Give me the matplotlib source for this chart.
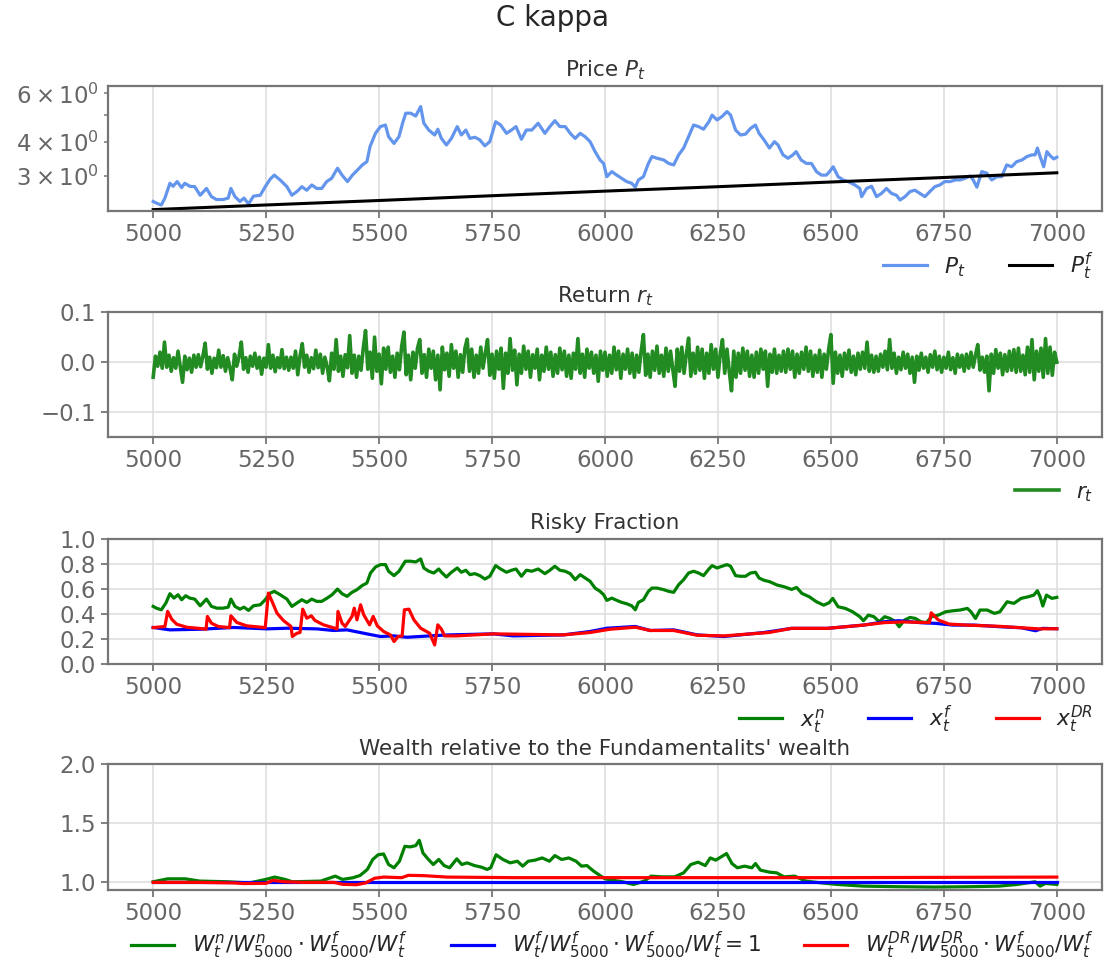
import numpy as np
import matplotlib
matplotlib.use("Agg")
import matplotlib.pyplot as plt

# ---------------- data ----------------
# market price P_t (time, price)
price_pts = [
    (5000, 2.42), (5009, 2.38), (5018, 2.35), (5026, 2.49), (5037, 2.82), (5044, 2.75),
    (5053, 2.86), (5063, 2.72), (5070, 2.82), (5081, 2.75), (5092, 2.74), (5104, 2.55),
    (5118, 2.70), (5129, 2.52), (5140, 2.46), (5155, 2.46), (5166, 2.49), (5172, 2.70),
    (5181, 2.52), (5192, 2.42), (5201, 2.49), (5211, 2.37), (5222, 2.53), (5237, 2.55),
    (5248, 2.74), (5259, 2.92), (5268, 3.02), (5281, 2.90), (5296, 2.74), (5307, 2.55),
    (5318, 2.63), (5329, 2.74), (5340, 2.66), (5351, 2.78), (5362, 2.70), (5373, 2.70),
    (5384, 2.86), (5395, 2.94), (5408, 3.20), (5418, 3.02), (5430, 2.86), (5441, 3.02),
    (5452, 3.15), (5463, 3.29), (5473, 3.38), (5480, 3.84), (5492, 4.29), (5503, 4.54),
    (5514, 4.60), (5521, 4.17), (5533, 3.94), (5544, 4.17), (5552, 4.67), (5559, 5.08),
    (5570, 5.08), (5581, 4.96), (5592, 5.37), (5599, 4.67), (5610, 4.41), (5623, 4.23),
    (5630, 4.44), (5638, 4.11), (5649, 3.89), (5660, 4.11), (5673, 4.54), (5682, 4.23),
    (5692, 4.41), (5701, 4.11), (5712, 4.15), (5723, 4.06), (5734, 3.86), (5745, 4.00),
    (5758, 4.73), (5769, 4.60), (5782, 4.29), (5793, 4.41), (5803, 4.54), (5815, 4.08),
    (5826, 4.41), (5838, 4.41), (5852, 4.67), (5867, 4.29), (5878, 4.54), (5889, 4.77),
    (5900, 4.54), (5912, 4.54), (5923, 4.29), (5934, 4.11), (5945, 4.29), (5956, 4.17),
    (5967, 4.00), (5978, 3.68), (5989, 3.43), (5997, 3.33), (6004, 2.98), (6015, 3.11),
    (6026, 3.02), (6037, 2.94), (6048, 2.86), (6059, 2.82), (6067, 2.73), (6074, 2.90),
    (6085, 2.98), (6096, 3.33), (6104, 3.53), (6115, 3.48), (6130, 3.43), (6141, 3.33),
    (6152, 3.29), (6163, 3.58), (6174, 3.79), (6185, 4.17), (6196, 4.60), (6207, 4.54),
    (6218, 4.44), (6230, 4.73), (6237, 5.00), (6248, 4.80), (6259, 4.94), (6270, 5.15),
    (6278, 5.00), (6289, 4.41), (6300, 4.23), (6311, 4.26), (6322, 4.47), (6333, 4.60),
    (6341, 4.29), (6352, 4.06), (6364, 3.79), (6375, 4.00), (6383, 3.89), (6394, 3.58),
    (6405, 3.48), (6416, 3.58), (6423, 3.68), (6434, 3.43), (6446, 3.33), (6457, 3.33),
    (6468, 3.11), (6479, 3.02), (6490, 3.02), (6497, 3.11), (6505, 3.24), (6516, 2.98),
    (6527, 2.90), (6538, 2.86), (6553, 2.78), (6564, 2.70), (6568, 2.52), (6579, 2.70),
    (6590, 2.75), (6601, 2.52), (6612, 2.59), (6623, 2.70), (6634, 2.59), (6645, 2.55),
    (6653, 2.45), (6664, 2.52), (6675, 2.63), (6686, 2.66), (6697, 2.59), (6708, 2.52),
    (6719, 2.63), (6730, 2.74), (6741, 2.78), (6752, 2.86), (6764, 2.86), (6775, 2.90),
    (6786, 2.90), (6797, 2.94), (6808, 3.00), (6815, 2.90), (6823, 2.73), (6834, 3.11),
    (6845, 3.07), (6856, 2.90), (6867, 2.98), (6878, 2.98), (6889, 3.29), (6900, 3.24),
    (6911, 3.38), (6923, 3.43), (6934, 3.53), (6945, 3.58), (6952, 3.58), (6957, 3.79),
    (6963, 3.53), (6971, 3.24), (6978, 3.68), (6985, 3.56), (6993, 3.46), (7000, 3.51),
]

# fundamental price P_t^f
fund_t = [5000, 5250, 5500, 5750, 6000, 6250, 6500, 6750, 7000]
fund_v = [2.26, 2.35, 2.44, 2.54, 2.64, 2.74, 2.85, 2.96, 3.08]

# returns r_t in thousandths, one value every 5 periods from 5000 to 7000
returns_milli = [
    -30, 12, -8, 20, -12, 40, -10, 14, -18, 9, -12, 22, -9, -40, 12, -15, 8, -20, 14, -10,
    15, -9, 12, 38, -14, 10, -22, 8, -11, 24, -10, 13, -18, 9, -12, -35, 16, -8, 11, 40,
    -14, 9, -20, 12, -8, 18, -12, 10, -24, 8, -10, 35, -12, 14, -19, 9, -11, 25, -13, 10,
    -16, 10, -12, 22, -25, 12, 37, -10, 14, -20, 9, -13, 24, -11, 16, -22, 10, -9, -37, 18,
    -14, 45, -18, 12, -28, 15, -11, 53, -22, 14, -30, 12, -16, 28, 63, -14, 20, -32, 50, -18,
    16, -43, 28, -14, 30, -20, 12, -30, 18, -15, 32, 60, -25, 14, -35, 20, -12, 28, 45, -22,
    15, -30, 26, -12, 22, -35, 14, -55, 30, -15, 18, -28, 35, -12, 22, -30, 15, -20, 28, 46,
    -18, 26, -30, 14, -22, 30, -12, 18, 45, -26, 16, -32, 22, -14, 28, -52, 18, -22, 47, -16,
    24, -45, 16, -22, 32, -14, 22, -30, 15, -12, 26, -35, 14, -18, 30, -14, 20, -28, 15, -22,
    28, -15, 22, -28, 14, -32, 18, -14, 47, -22, 16, -30, 26, -12, 20, -22, 14, -38, 22, -16,
    20, -28, 14, -22, 30, -15, 22, -32, 16, -14, 26, -22, 18, -30, 14, -20, 22, 55, -26, 16,
    -30, 22, -16, 32, -22, 14, -28, 28, -18, 22, -14, -48, 26, -18, 30, -22, 16, 48, -28, 18,
    -22, 30, -16, 26, -32, 18, -22, 35, -14, 26, -30, 16, 45, -22, 26, -18, -57, 22, -30, 18,
    -22, 28, -16, 22, -28, 14, -30, 20, -22, 26, -14, 22, -48, 16, -20, 26, -22, 14, -18, 22,
    -20, 26, -14, 22, -30, 16, -22, 20, -14, 30, -18, 22, -28, 14, -20, 24, -30, 16, -14, 26,
    55, -42, 20, -22, 14, -28, 18, -14, 24, -20, 12, -25, 18, -14, 20, -12, 40, -18, 14, -20,
    12, -18, 16, -10, 22, -15, 45, -12, 18, -22, 10, -15, 20, -12, 16, -22, 10, -40, 12, -16,
    18, -12, 10, -20, 15, -10, 22, -15, 12, -20, 10, -12, 20, -15, 9, -22, 16, -10, 14, -18,
    16, -12, 20, -10, 14, 35, -16, 10, -20, 12, -57, 16, -22, 25, -12, 18, -25, 15, -18, 22,
    -16, 25, -20, 28, -18, 14, -25, 30, -20, 45, -35, 22, -18, 28, -30, 47, -22, 30, -26, 20,
    0,
]

# risky fraction of the noise traders x_t^n
xn_pts = [
    (5000, 0.459), (5007, 0.445), (5018, 0.432), (5028, 0.485), (5037, 0.560), (5046, 0.525),
    (5055, 0.552), (5063, 0.512), (5072, 0.544), (5081, 0.525), (5092, 0.517), (5104, 0.464),
    (5118, 0.517), (5129, 0.459), (5141, 0.445), (5155, 0.445), (5166, 0.453), (5172, 0.517),
    (5181, 0.459), (5192, 0.437), (5201, 0.453), (5211, 0.427), (5222, 0.464), (5237, 0.472),
    (5248, 0.512), (5259, 0.565), (5268, 0.579), (5281, 0.552), (5296, 0.517), (5307, 0.459),
    (5318, 0.485), (5329, 0.512), (5340, 0.491), (5351, 0.517), (5362, 0.499), (5373, 0.499),
    (5385, 0.525), (5396, 0.552), (5408, 0.597), (5418, 0.560), (5429, 0.539), (5440, 0.571),
    (5451, 0.592), (5462, 0.624), (5473, 0.645), (5481, 0.725), (5492, 0.773), (5503, 0.792),
    (5514, 0.792), (5521, 0.739), (5533, 0.704), (5544, 0.739), (5551, 0.779), (5558, 0.819),
    (5570, 0.819), (5581, 0.813), (5592, 0.837), (5599, 0.765), (5610, 0.739), (5621, 0.725),
    (5632, 0.757), (5638, 0.731), (5649, 0.693), (5660, 0.731), (5673, 0.765), (5682, 0.731),
    (5692, 0.747), (5701, 0.712), (5712, 0.720), (5723, 0.704), (5734, 0.677), (5745, 0.699),
    (5758, 0.784), (5769, 0.757), (5782, 0.731), (5793, 0.747), (5803, 0.757), (5815, 0.699),
    (5826, 0.747), (5838, 0.739), (5852, 0.757), (5867, 0.720), (5878, 0.747), (5889, 0.779),
    (5900, 0.747), (5912, 0.739), (5923, 0.720), (5934, 0.672), (5945, 0.712), (5956, 0.685),
    (5967, 0.659), (5978, 0.605), (5989, 0.579), (5997, 0.552), (6004, 0.507), (6015, 0.525),
    (6026, 0.507), (6037, 0.491), (6048, 0.480), (6059, 0.464), (6067, 0.432), (6074, 0.491),
    (6085, 0.512), (6096, 0.579), (6104, 0.605), (6115, 0.605), (6130, 0.592), (6141, 0.579),
    (6152, 0.571), (6163, 0.632), (6174, 0.672), (6185, 0.725), (6196, 0.739), (6207, 0.725),
    (6218, 0.704), (6230, 0.757), (6237, 0.784), (6248, 0.765), (6259, 0.779), (6270, 0.792),
    (6278, 0.779), (6289, 0.704), (6300, 0.699), (6311, 0.699), (6322, 0.725), (6333, 0.731),
    (6341, 0.685), (6352, 0.667), (6365, 0.655), (6381, 0.629), (6397, 0.615), (6413, 0.594),
    (6424, 0.610), (6436, 0.562), (6452, 0.536), (6468, 0.496), (6484, 0.469), (6496, 0.488),
    (6504, 0.523), (6516, 0.456), (6532, 0.443), (6548, 0.416), (6564, 0.377), (6572, 0.345),
    (6583, 0.390), (6595, 0.377), (6607, 0.337), (6619, 0.377), (6631, 0.363), (6643, 0.337),
    (6651, 0.297), (6663, 0.350), (6675, 0.371), (6687, 0.363), (6699, 0.337), (6711, 0.329),
    (6723, 0.377), (6738, 0.390), (6754, 0.416), (6770, 0.424), (6786, 0.430), (6802, 0.443),
    (6810, 0.416), (6820, 0.363), (6830, 0.430), (6846, 0.430), (6862, 0.403), (6874, 0.416),
    (6890, 0.496), (6905, 0.483), (6921, 0.523), (6937, 0.536), (6949, 0.549), (6957, 0.584),
    (6963, 0.536), (6969, 0.462), (6977, 0.549), (6989, 0.523), (7000, 0.531),
]

# risky fraction of the fundamentalists x_t^f
xf_pts = [
    (5000, 0.291), (5037, 0.272), (5104, 0.277), (5178, 0.291), (5252, 0.280), (5296, 0.285),
    (5362, 0.280), (5399, 0.267), (5429, 0.272), (5473, 0.240), (5503, 0.219), (5533, 0.224),
    (5562, 0.213), (5612, 0.224), (5656, 0.232), (5753, 0.240), (5797, 0.224), (5908, 0.232),
    (5967, 0.259), (6004, 0.285), (6067, 0.299), (6100, 0.267), (6152, 0.272), (6204, 0.232),
    (6263, 0.219), (6352, 0.251), (6413, 0.284), (6492, 0.284), (6572, 0.310), (6619, 0.337),
    (6651, 0.345), (6699, 0.329), (6731, 0.324), (6770, 0.310), (6818, 0.310), (6874, 0.297),
    (6921, 0.289), (6953, 0.265), (6969, 0.284), (7000, 0.281),
]

# risky fraction of the DR traders x_t^DR
xdr_pts = [
    (5000, 0.290), (5026, 0.299), (5032, 0.419), (5041, 0.357), (5052, 0.317), (5074, 0.293),
    (5104, 0.283), (5117, 0.277), (5120, 0.379), (5129, 0.325), (5144, 0.299), (5169, 0.290),
    (5172, 0.384), (5185, 0.331), (5207, 0.304), (5248, 0.290), (5255, 0.565), (5263, 0.499),
    (5274, 0.405), (5288, 0.347), (5305, 0.299), (5308, 0.219), (5318, 0.245), (5325, 0.251),
    (5331, 0.437), (5340, 0.365), (5350, 0.384), (5358, 0.347), (5377, 0.312), (5407, 0.280),
    (5409, 0.419), (5418, 0.325), (5425, 0.299), (5440, 0.379), (5445, 0.445), (5451, 0.352),
    (5459, 0.472), (5466, 0.392), (5479, 0.312), (5487, 0.379), (5496, 0.304), (5510, 0.259),
    (5525, 0.232), (5533, 0.179), (5542, 0.219), (5551, 0.224), (5556, 0.432), (5566, 0.437),
    (5577, 0.352), (5592, 0.285), (5612, 0.245), (5623, 0.152), (5630, 0.312), (5638, 0.277),
    (5645, 0.224), (5671, 0.224), (5753, 0.240), (5908, 0.232), (5967, 0.251), (6011, 0.277),
    (6067, 0.293), (6100, 0.267), (6152, 0.267), (6204, 0.229), (6263, 0.224), (6363, 0.251),
    (6413, 0.284), (6492, 0.284), (6572, 0.310), (6619, 0.330), (6660, 0.335), (6718, 0.330),
    (6722, 0.408), (6738, 0.350), (6762, 0.318), (6800, 0.310), (6874, 0.300), (6921, 0.289),
    (6960, 0.280), (7000, 0.281),
]

# wealth of the noise traders relative to the fundamentalists
wn_pts = [
    (5000, 1.000), (5032, 1.025), (5071, 1.025), (5103, 1.006), (5166, 1.000), (5213, 0.990),
    (5249, 1.020), (5269, 1.040), (5292, 1.020), (5308, 1.000), (5371, 1.006), (5403, 1.048),
    (5419, 1.020), (5442, 1.034), (5458, 1.054), (5474, 1.105), (5486, 1.190), (5498, 1.230),
    (5510, 1.237), (5521, 1.147), (5533, 1.119), (5545, 1.175), (5557, 1.302), (5569, 1.297),
    (5581, 1.308), (5589, 1.353), (5597, 1.246), (5608, 1.195), (5620, 1.147), (5632, 1.190),
    (5644, 1.138), (5656, 1.119), (5672, 1.195), (5683, 1.147), (5695, 1.161), (5711, 1.138),
    (5727, 1.124), (5739, 1.105), (5747, 1.119), (5759, 1.230), (5774, 1.190), (5790, 1.161),
    (5806, 1.175), (5818, 1.133), (5830, 1.175), (5845, 1.184), (5861, 1.203), (5877, 1.175),
    (5889, 1.223), (5904, 1.190), (5920, 1.203), (5936, 1.175), (5948, 1.133), (5960, 1.138),
    (5975, 1.090), (5991, 1.048), (6000, 1.025), (6015, 1.014), (6039, 1.000), (6063, 0.977),
    (6087, 1.006), (6102, 1.048), (6126, 1.042), (6154, 1.042), (6174, 1.076), (6190, 1.147),
    (6206, 1.167), (6222, 1.138), (6233, 1.203), (6245, 1.184), (6257, 1.212), (6269, 1.240),
    (6281, 1.155), (6293, 1.119), (6309, 1.133), (6325, 1.119), (6333, 1.155), (6344, 1.099),
    (6364, 1.082), (6380, 1.076), (6396, 1.042), (6420, 1.048), (6444, 1.006), (6475, 0.992),
    (6515, 0.977), (6571, 0.963), (6650, 0.958), (6729, 0.955), (6809, 0.958), (6872, 0.963),
    (6912, 0.977), (6952, 1.000), (6963, 0.963), (6975, 0.986), (7000, 0.977),
]

# wealth of the fundamentalists relative to themselves (identically one)
wf_t = [5000, 7000]
wf_v = [1.0, 1.0]

# wealth of the DR traders relative to the fundamentalists
wdr_pts = [
    (5000, 0.995), (5100, 0.995), (5180, 0.990), (5200, 0.985), (5250, 0.987), (5265, 1.012),
    (5290, 1.000), (5330, 0.995), (5400, 0.995), (5420, 0.978), (5450, 0.975), (5470, 0.990),
    (5490, 1.030), (5510, 1.040), (5550, 1.035), (5565, 1.055), (5600, 1.052), (5650, 1.040),
    (5800, 1.035), (6000, 1.035), (6500, 1.035), (7000, 1.040),
]

x_ticks = [5000, 5250, 5500, 5750, 6000, 6250, 6500, 6750, 7000]


def unzip(pts):
    a = np.array(pts, dtype=float)
    return a[:, 0], a[:, 1]


# ---------------- style ----------------
GREY_TXT = "#666666"
plt.rcParams.update({
    "font.family": "DejaVu Sans",
    "mathtext.fontset": "dejavusans",
    "axes.edgecolor": "#767676",
    "axes.linewidth": 1.6,
    "xtick.color": "#767676",
    "ytick.color": "#767676",
    "xtick.labelcolor": GREY_TXT,
    "ytick.labelcolor": GREY_TXT,
    "xtick.labelsize": 16.5,
    "ytick.labelsize": 16.5,
    "xtick.major.size": 5,
    "ytick.major.size": 5,
    "ytick.minor.size": 3,
    "xtick.major.width": 1.3,
    "ytick.major.width": 1.3,
    "ytick.minor.width": 1.1,
    "grid.color": "#dddddd",
    "grid.linewidth": 1.1,
    "axes.titlesize": 15.5,
    "axes.titlecolor": "#333333",
    "text.color": "#262626",
    "legend.fontsize": 15.6,
})

fig = plt.figure(figsize=(11.04, 9.61), dpi=100)
W, H = 1104.0, 961.0
left, right = 108 / W, 1102 / W
panel_px = [(85.7, 211.0), (312.0, 437.5), (538.5, 664.0), (764.3, 890.0)]
axes = []
for top, bot in panel_px:
    axes.append(fig.add_axes([left, 1 - bot / H, right - left, (bot - top) / H]))

fig.suptitle("C kappa", y=1 - 18 / H, va="center", fontsize=20, color="#262626")


def finish(ax, title, ncol):
    ax.set_xticks(x_ticks)
    ax.set_xlim(4900, 7100)
    ax.grid(True)
    ax.set_axisbelow(True)
    ax.set_title(title, pad=7)
    ax.legend(loc="center right", bbox_to_anchor=(1.0, -0.44), ncol=ncol,
              frameon=False, borderaxespad=0.0, handlelength=2.0,
              handletextpad=0.8, columnspacing=2.0)


# price
ax = axes[0]
pt, pv = unzip(price_pts)
ax.plot(pt, pv, color="cornflowerblue", lw=2.3, label="$P_t$")
ax.plot(fund_t, fund_v, color="black", lw=2.2, label="$P_t^f$")
ax.set_yscale("log")
ax.set_ylim(2.234, 6.40)
finish(ax, "Price $P_t$", 2)

# returns
ax = axes[1]
r = np.array(returns_milli, dtype=float) / 1000.0
rt = np.linspace(5000, 7000, len(r))
ax.plot(rt, r, color="forestgreen", lw=2.6, label="$r_t$")
ax.set_ylim(-0.15, 0.1)
ax.set_yticks([-0.1, 0.0, 0.1])
finish(ax, "Return $r_t$", 1)

# risky fraction
ax = axes[2]
ax.plot(*unzip(xn_pts), color="green", lw=2.3, label="$x_t^n$")
ax.plot(*unzip(xf_pts), color="blue", lw=2.3, label="$x_t^f$")
ax.plot(*unzip(xdr_pts), color="red", lw=2.3, label="$x_t^{DR}$")
ax.set_ylim(0.0, 1.0)
ax.set_yticks([0.0, 0.2, 0.4, 0.6, 0.8, 1.0])
finish(ax, "Risky Fraction", 3)

# relative wealth
ax = axes[3]
ax.plot(*unzip(wn_pts), color="green", lw=2.3,
        label=r"$W_t^n/W_{5000}^n\cdot W_{5000}^f/W_t^f$")
ax.plot(wf_t, wf_v, color="blue", lw=2.3,
        label=r"$W_t^f/W_{5000}^f\cdot W_{5000}^f/W_t^f=1$")
ax.plot(*unzip(wdr_pts), color="red", lw=2.3,
        label=r"$W_t^{DR}/W_{5000}^{DR}\cdot W_{5000}^f/W_t^f$")
ax.set_ylim(0.93, 2.0)
ax.set_yticks([1.0, 1.5, 2.0])
finish(ax, "Wealth relative to the Fundamentalits' wealth", 3)

fig.savefig("out.png", dpi=100)
